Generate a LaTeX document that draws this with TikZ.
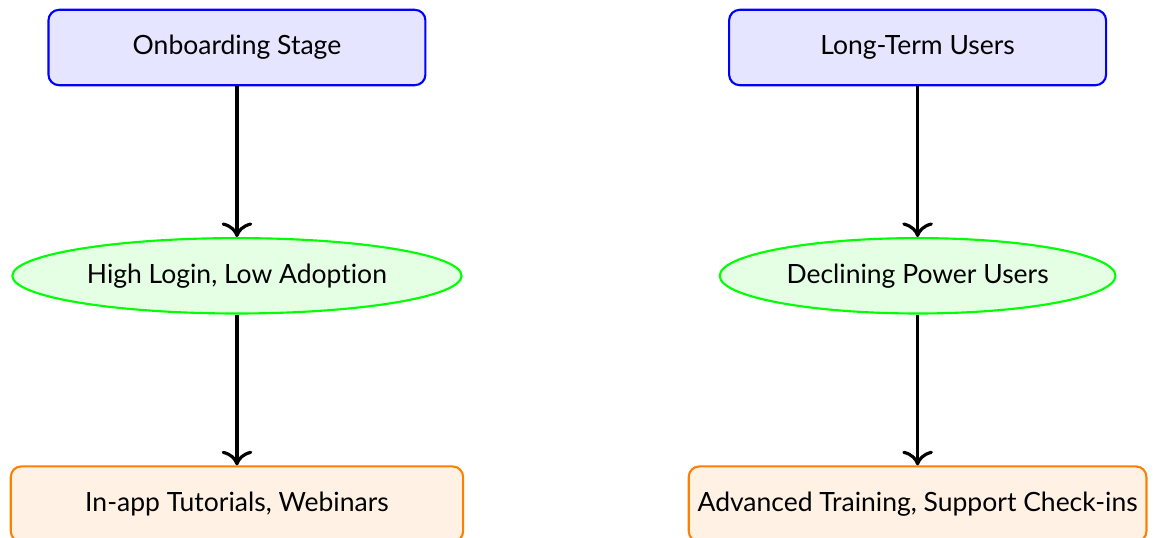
\documentclass[tikz,border=0pt]{standalone}
\usepackage{fontspec}
\setmainfont{Lato}[Ligatures=NoCommon]
\usetikzlibrary{positioning,shapes.geometric,arrows.meta}
\colorlet{stageBlue}{blue!10}
\colorlet{issueGreen}{green!10}
\colorlet{fixOrange}{orange!10}

\begin{document}
\begin{tikzpicture}[>={To[scale=1.3]},
        stage/.style={draw=blue, thick, fill=stageBlue, rounded corners, minimum width=5cm, minimum height=1cm, align=center},
        issue/.style={draw=green, thick, fill=issueGreen, ellipse, minimum height=1cm, align=center},
        fix/.style={draw=orange, thick, fill=fixOrange, rounded corners, minimum width=6cm, minimum height=1cm, align=center},
        flow/.style={->, very thick}]
                \useasboundingbox (-3.143,0.630) rectangle (12.23,-6.506);
                % left column
                \node[stage] (onb) at (0,0) {Onboarding Stage};
                \node[issue, below=2cm of onb] (hl) {High Login, Low Adoption};
                \node[fix, below=2cm of hl] (tut) {In-app Tutorials, Webinars};
                % right column
                \node[stage, right=4cm of onb] (lt) {Long-Term Users};
                \node[issue, below=2cm of lt] (dp) {Declining Power Users};
                \node[fix, below=2cm of dp] (adv) {Advanced Training, Support Check-ins};
                \draw[flow] (onb) -- (hl);
                \draw[flow] (hl) -- (tut);
                \draw[flow] (lt) -- (dp);
                \draw[flow] (dp) -- (adv);
            \end{tikzpicture}
\end{document}
